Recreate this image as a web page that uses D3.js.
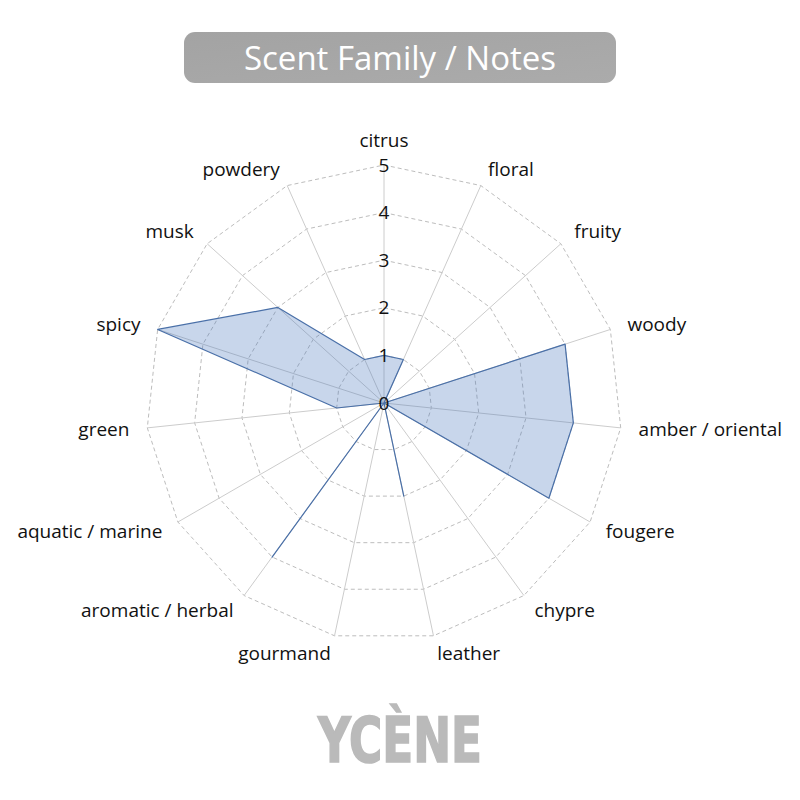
<!DOCTYPE html>
<html>
<head>
    <title>Scent Family / Notes</title>
    <script src="https://d3js.org/d3.v7.min.js"></script>
    <style>
        body { margin: 0; background: #fff; }
    </style>
</head>
<body>
<div id="chart"></div>

<script>
    // data
    const notes = ["citrus", "floral", "fruity", "woody", "amber / oriental", "fougere", "chypre",
        "leather", "gourmand", "aromatic / herbal", "aquatic / marine", "green", "spicy", "musk", "powdery"];
    const scores = [1, 1, 0, 4, 4, 4, 0, 2, 0, 4, 0, 1, 5, 3, 1];
    const ticks = [0, 1, 2, 3, 4, 5];
    const title = "Scent Family / Notes";
    const brand = "YCÈNE";

    const width = 800;
    const height = 800;
    const cx = 384, cy = 403;
    const radius = 238;

    const svg = d3.select("#chart")
        .append("svg")
        .attr("width", width)
        .attr("height", height);

    // title pill
    const grad = svg.append("defs").append("linearGradient")
        .attr("id", "pill").attr("x1", 0).attr("x2", 1).attr("y1", 0).attr("y2", 1);
    grad.append("stop").attr("offset", "0%").attr("stop-color", "#a3a3a3");
    grad.append("stop").attr("offset", "100%").attr("stop-color", "#ababab");

    svg.append("rect")
        .attr("x", 184).attr("y", 32)
        .attr("width", 432).attr("height", 51)
        .attr("rx", 11)
        .attr("fill", "url(#pill)");

    svg.append("text")
        .attr("x", 400).attr("y", 70)
        .attr("text-anchor", "middle")
        .style("font-family", "'Open Sans', sans-serif")
        .style("font-size", "33px")
        .style("fill", "#fff")
        .text(title);

    // scales
    const r = d3.scaleLinear().domain([0, d3.max(ticks)]).range([0, radius]);
    const angle = d3.scaleLinear().domain([0, notes.length]).range([0, 2 * Math.PI]);

    const g = svg.append("g").attr("transform", `translate(${cx},${cy})`);

    // rings
    const ring = d3.lineRadial()
        .angle((d, i) => angle(i))
        .radius(d => r(d))
        .curve(d3.curveLinearClosed);

    ticks.slice(1).forEach(t => {
        g.append("path")
            .datum(notes.map(() => t))
            .attr("d", ring)
            .attr("fill", "none")
            .attr("stroke", "#bdbdbd")
            .attr("stroke-width", 1)
            .attr("stroke-dasharray", "4,3");
    });

    // spokes
    g.selectAll(".spoke")
        .data(notes)
        .join("line")
        .attr("class", "spoke")
        .attr("x1", 0).attr("y1", 0)
        .attr("x2", (d, i) => r(5) * Math.sin(angle(i)))
        .attr("y2", (d, i) => -r(5) * Math.cos(angle(i)))
        .attr("stroke", "#cccccc")
        .attr("stroke-width", 1);

    // the data area
    const area = d3.lineRadial()
        .angle((d, i) => angle(i))
        .radius(d => r(d))
        .curve(d3.curveLinearClosed);

    g.append("path")
        .datum(scores)
        .attr("d", area)
        .attr("fill", "rgb(74,118,190)")
        .attr("fill-opacity", 0.3)
        .attr("stroke", "#4a70a8")
        .attr("stroke-width", 1.2)
        .attr("stroke-linejoin", "round");

    // tick labels on the first axis
    g.selectAll(".tick")
        .data(ticks)
        .join("text")
        .attr("class", "tick")
        .attr("x", 0)
        .attr("y", d => -r(d))
        .attr("dy", "0.35em")
        .attr("text-anchor", "middle")
        .style("font-family", "'Open Sans', sans-serif")
        .style("font-size", "19px")
        .style("fill", "#111")
        .text(d => d);

    // point labels
    g.selectAll(".label")
        .data(notes)
        .join("text")
        .attr("class", "label")
        .each(function(d, i) {
            const a = angle(i);
            const rr = radius + (i === 0 ? 25 : 18);
            const s = Math.sin(a);
            d3.select(this)
                .attr("x", rr * s)
                .attr("y", -rr * Math.cos(a))
                .attr("text-anchor", Math.abs(s) < 0.01 ? "middle" : (s > 0 ? "start" : "end"));
        })
        .attr("dy", "0.35em")
        .style("font-family", "'Open Sans', sans-serif")
        .style("font-size", "19px")
        .style("fill", "#111")
        .text(d => d);

    // brand mark, stroked a little to get the heavy condensed look
    svg.append("text")
        .attr("x", 400).attr("y", 762)
        .attr("text-anchor", "middle")
        .attr("textLength", 164)
        .attr("lengthAdjust", "spacingAndGlyphs")
        .style("font-family", "'Liberation Sans Narrow', 'DejaVu Sans Condensed', sans-serif")
        .style("font-weight", "bold")
        .style("font-size", "62px")
        .style("fill", "#bababa")
        .style("stroke", "#bababa")
        .style("stroke-width", "1.6px")
        .text(brand);
</script>
</body>
</html>
